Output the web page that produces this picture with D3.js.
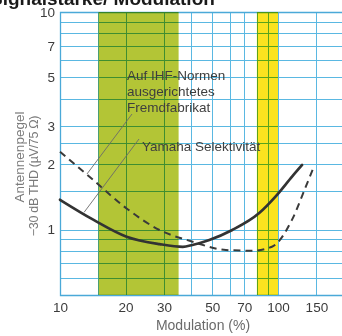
<!DOCTYPE html>
<html><head><meta charset="utf-8">
<script src="https://cdn.jsdelivr.net/npm/d3@7"></script>
<style>
html,body{margin:0;padding:0;background:#fff;overflow:hidden;}
svg{display:block;font-family:"Liberation Sans",Arial,Helvetica,sans-serif;}
</style></head><body>
<svg id="chart" width="342" height="336"></svg>
<script>
// Modulation (%) tick labels and grid lines
const xTickValues = [10, 20, 30, 50, 70, 100, 150];
const xGridValues = [15, 20, 30, 40, 50, 60, 70, 80, 90, 100, 150];
// Antenna level (µV) tick labels and grid lines
const yTickValues = [1, 2, 3, 5, 7, 10];
const yGridValues = [0.6, 0.7, 0.8, 0.9, 1, 1.5, 2, 2.5, 3, 4, 5, 6, 7, 8, 9, 10];
// Highlighted modulation ranges
const greenBand = [15, 35];
const yellowBand = [80, 100];
// Yamaha selectivity curve
const yamahaMod   = [10, 14.2, 20.2, 28.6, 36.6, 40.5, 48.4, 61.7, 82, 97.6, 116, 129];
const yamahaLevel = [1.37, 1.11, 0.927, 0.857, 0.833, 0.849, 0.895, 0.995, 1.19, 1.42, 1.75, 1.98];
// IHF-rated competitor curve
const ihfMod   = [10, 14.2, 20.2, 28.6, 40.6, 57.7, 76.2, 93.8, 116, 134, 146];
const ihfLevel = [2.28, 1.69, 1.25, 0.995, 0.879, 0.805, 0.799, 0.833, 1.11, 1.57, 1.94];
// Leader line anchors on the curves [modulation, level]
const yamahaAnchor = [12.9, 1.2];
const ihfAnchor = [13.3, 1.8];

(function () {
const W = 342;
const svg = d3.select("#chart");

const x = d3.scaleLog().domain([10, 100]).range([60, 278]);
const y = d3.scaleLog().domain([0.5, 10]).range([295, 12]);
const pl = x(10), pr = W, pt = y(10), pb = y(0.5);

// title (partly above the visible area)
svg.append("text")
  .attr("x", -10).attr("y", 5)
  .attr("font-size", 19).attr("font-weight", "bold").attr("fill", "#1a1a1a")
  .text("Signalstärke/ Modulation");

// bands
svg.append("rect")
  .attr("x", x(greenBand[0])).attr("y", pt)
  .attr("width", x(greenBand[1]) - x(greenBand[0])).attr("height", pb - pt)
  .attr("fill", "#b3c536");
svg.append("rect")
  .attr("x", x(yellowBand[0])).attr("y", pt)
  .attr("width", x(yellowBand[1]) - x(yellowBand[0])).attr("height", pb - pt)
  .attr("fill", "#fbe31f");

// grid
const grid = svg.append("g").style("mix-blend-mode", "multiply");
grid.selectAll(".hg").data(yGridValues).join("line")
  .attr("x1", pl).attr("x2", pr)
  .attr("y1", d => Math.round(y(d)) + 0.5).attr("y2", d => Math.round(y(d)) + 0.5)
  .attr("stroke", "#5ab8e2").attr("stroke-width", 1);
grid.selectAll(".vg").data(xGridValues).join("line")
  .attr("y1", pt).attr("y2", pb)
  .attr("x1", d => Math.round(x(d)) + 0.5).attr("x2", d => Math.round(x(d)) + 0.5)
  .attr("stroke", "#5ab8e2").attr("stroke-width", 1);
// frame
grid.append("path")
  .attr("d", `M${pr},${pt + 0.5}H${pl + 0.5}V${pb + 0.5}H${pr}`)
  .attr("fill", "none").attr("stroke", "#4aa9d8").attr("stroke-width", 1.3);

// tick labels via d3 axes
const xAxis = d3.axisBottom(x).tickValues(xTickValues).tickFormat(d3.format("d")).tickSize(0).tickPadding(7);
const gx = svg.append("g").attr("transform", `translate(0,${pb})`).call(xAxis);
gx.select(".domain").remove();
gx.selectAll("text").attr("font-size", 13.5).attr("fill", "#3c3c3c").attr("font-family", "Liberation Sans, Arial, sans-serif");

const yAxis = d3.axisLeft(y).tickValues(yTickValues).tickFormat(d3.format("d")).tickSize(0).tickPadding(5);
const gy = svg.append("g").attr("transform", `translate(${pl},0)`).call(yAxis);
gy.select(".domain").remove();
gy.selectAll("text").attr("font-size", 13.5).attr("fill", "#3c3c3c").attr("font-family", "Liberation Sans, Arial, sans-serif");

// axis titles
svg.append("text")
  .attr("x", 203).attr("y", 330)
  .attr("text-anchor", "middle").attr("font-size", 14).attr("fill", "#6a6a6a")
  .text("Modulation (%)");
svg.append("text")
  .attr("transform", "translate(24,157) rotate(-90)")
  .attr("text-anchor", "middle").attr("font-size", 13.5).attr("fill", "#7a7a7a")
  .text("Antennenpegel");
svg.append("text")
  .attr("transform", "translate(38,176) rotate(-90)")
  .attr("text-anchor", "middle").attr("font-size", 12.5).attr("letter-spacing", -0.3).attr("fill", "#7a7a7a")
  .text("\u221230 dB THD (\u00b5V/75 \u03a9)");

// curves
const line = d3.line().x(d => x(d[0])).y(d => y(d[1])).curve(d3.curveMonotoneX);
svg.append("path")
  .datum(ihfMod.map((m, i) => [m, ihfLevel[i]]))
  .attr("d", line).attr("fill", "none")
  .attr("stroke", "#3a3a3a").attr("stroke-width", 2).attr("stroke-dasharray", "7,5");
svg.append("path")
  .datum(yamahaMod.map((m, i) => [m, yamahaLevel[i]]))
  .attr("d", line).attr("fill", "none")
  .attr("stroke", "#333").attr("stroke-width", 2.7).attr("stroke-linecap", "round");

// annotations
const ann = svg.append("g").attr("fill", "#3e3e3e").attr("font-size", 13.5);
["Auf IHF-Normen", "ausgerichtetes", "Fremdfabrikat"].forEach((t, i) => {
  ann.append("text").attr("x", 127).attr("y", 80 + i * 16).text(t);
});
ann.append("text").attr("x", 142).attr("y", 151).text("Yamaha Selektivität");

svg.append("line")
  .attr("x1", 132).attr("y1", 114).attr("x2", x(ihfAnchor[0])).attr("y2", y(ihfAnchor[1]))
  .attr("stroke", "#6a6a6a").attr("stroke-width", 0.9);
svg.append("line")
  .attr("x1", 139).attr("y1", 139).attr("x2", x(yamahaAnchor[0])).attr("y2", y(yamahaAnchor[1]))
  .attr("stroke", "#6a6a6a").attr("stroke-width", 0.9);
})();
</script>
</body></html>
